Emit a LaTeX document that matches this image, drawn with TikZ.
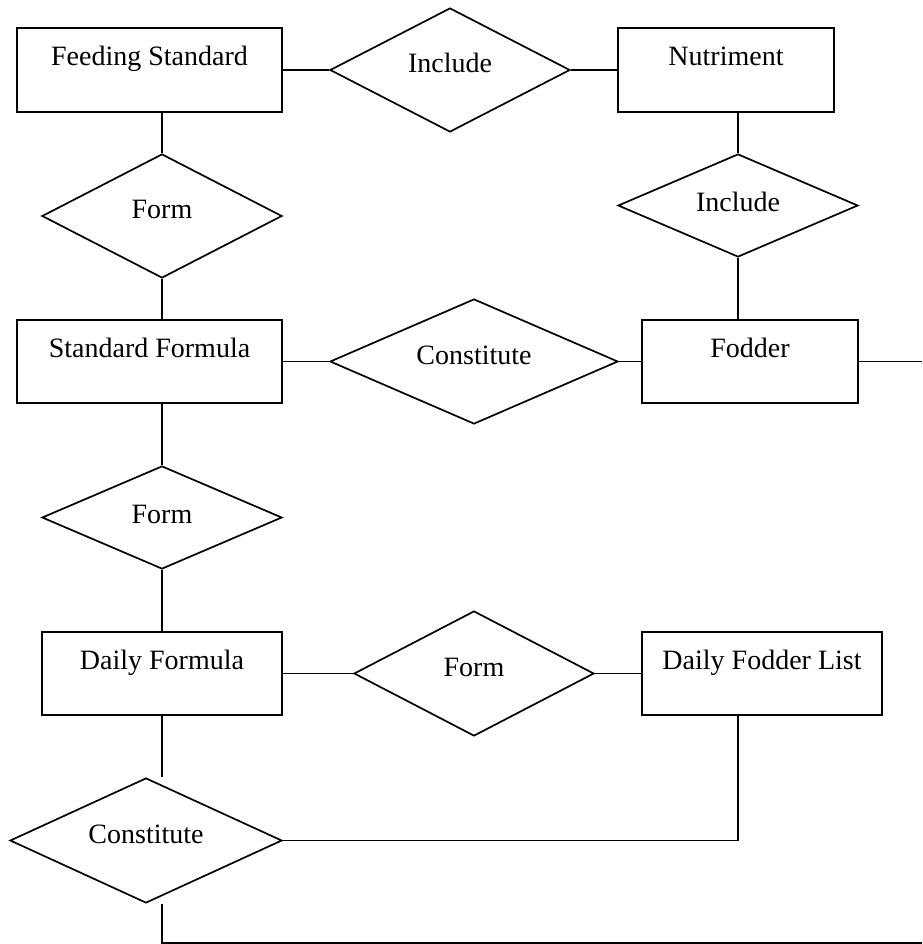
\documentclass[tikz,border=0pt]{standalone}
\usepackage{fontspec}
\setmainfont{Liberation Serif}
\usetikzlibrary{shapes.geometric}
\begin{document}
\begin{tikzpicture}[x=1pt,y=-1pt,
  ent/.style={draw, line width=1.7pt, rectangle, inner sep=0pt, minimum height=83.5pt,
    text height=20pt, text depth=28pt, font=\fontsize{28}{34}\selectfont},
  rel/.style={draw, line width=1.7pt, diamond, aspect=2, inner sep=0pt,
    text height=20pt, text depth=15pt, font=\fontsize{28}{34}\selectfont},
  lowtext/.style={text height=20pt, text depth=8pt},
  conn/.style={line width=1.7pt}]
\useasboundingbox (0,0) rectangle (922,944);
\coordinate (rEdge) at (922,943);
% entities
\node[ent, minimum width=265pt] (fs) at (149.5,70) {Feeding Standard};
\node[ent, minimum width=216pt] (nut) at (726,70) {Nutriment};
\node[ent, minimum width=265pt] (sf) at (149.5,361.5) {Standard Formula};
\node[ent, minimum width=216pt] (fod) at (750,361.5) {Fodder};
\node[ent, minimum width=240pt] (df) at (162,673.5) {Daily Formula};
\node[ent, minimum width=240pt] (dfl) at (762,673.5) {Daily Fodder List};
% relationships
\node[rel, minimum width=240pt, minimum height=124pt] (inc1) at (450,70) {Include};
\node[rel, minimum width=240pt, minimum height=124pt] (form1) at (162,216) {Form};
\node[rel, lowtext, minimum width=240pt, minimum height=103pt] (inc2) at (738,205.5) {Include};
\node[rel, minimum width=288pt, minimum height=125pt] (con1) at (474,361.5) {Constitute};
\node[rel, lowtext, minimum width=240pt, minimum height=103pt] (form2) at (162,517.5) {Form};
\node[rel, minimum width=240pt, minimum height=125pt] (form3) at (474,673.5) {Form};
\node[rel, minimum width=272pt, minimum height=125pt] (con2) at (146,840.5) {Constitute};
\coordinate (dflx) at (738,715);
% connectors
\draw[conn] (fs.east) -- (inc1.west);
\draw[conn] (inc1.east) -- (nut.west);
\draw[conn] (form1.north |- fs.south) -- (form1.north);
\draw[conn] (form1.south) -- (form1.south |- sf.north);
\draw[conn] (inc2.north |- nut.south) -- (inc2.north);
\draw[conn] (inc2.south) -- (inc2.south |- fod.north);
\draw[conn] (sf.east) -- (con1.west);
\draw[conn] (con1.east) -- (fod.west);
\draw[conn] (fod.east) -- (fod.east -| rEdge);
\draw[conn] (form2.north |- sf.south) -- (form2.north);
\draw[conn] (form2.south) -- (df.north);
\draw[conn] (df.east) -- (form3.west);
\draw[conn] (form3.east) -- (dfl.west);
\draw[conn] (df.south) -- (df.south |- con2.north);
\draw[conn] (dflx) |- (con2.east);
\draw[conn] (df.south |- con2.south) -- (df.south |- rEdge) -- (rEdge);
\end{tikzpicture}
\end{document}
